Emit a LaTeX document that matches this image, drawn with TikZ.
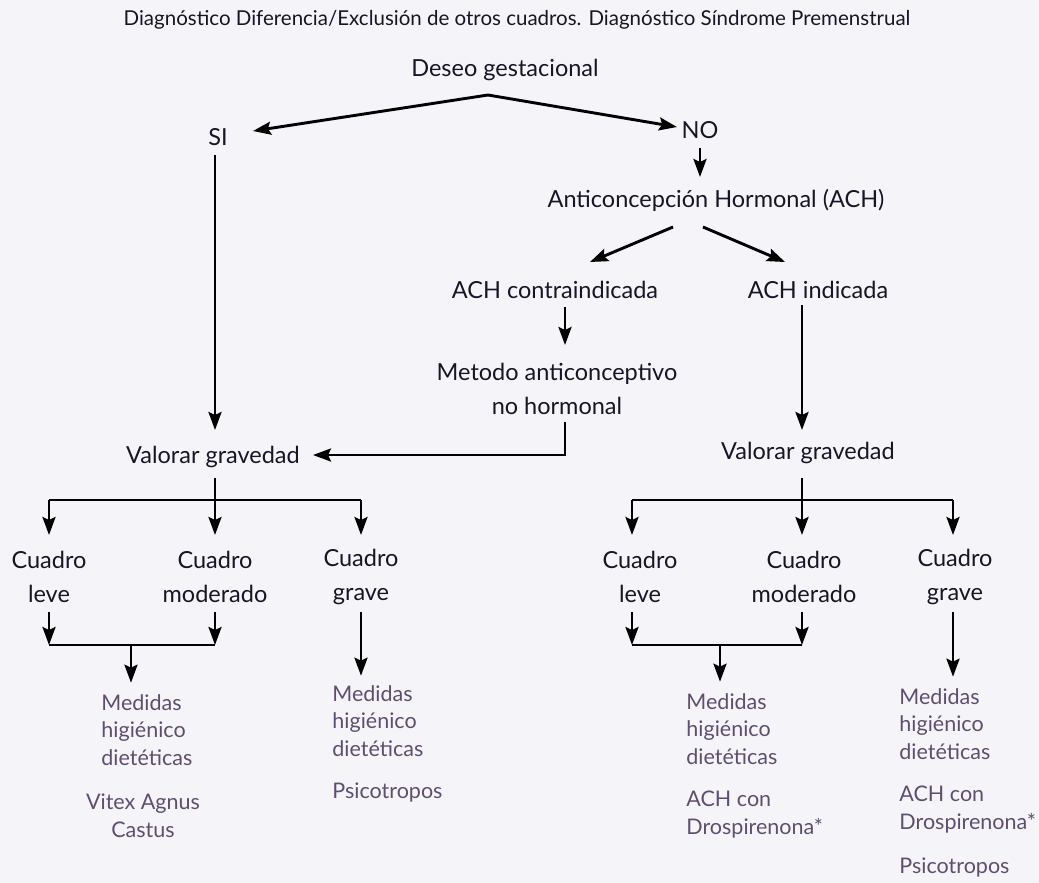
\documentclass[tikz,border=0pt]{standalone}
\usepackage{fontspec}
\setmainfont{Lato}
\usetikzlibrary{arrows.meta}

\definecolor{bgcol}{RGB}{245,245,249}
\definecolor{txtcol}{RGB}{22,22,38}
\definecolor{medcol}{RGB}{96,78,112}

\begin{document}
\begin{tikzpicture}[x=1pt, y=-1pt, line width=2.9pt,
    flecha/.style={black, -{Stealth[length=18pt,width=13pt,inset=3pt]}},
    ttl/.style={text=txtcol, font=\fontsize{20.5}{24}\selectfont, inner sep=0pt},
    lbl/.style={text=txtcol, font=\fontsize{23.5}{34}\selectfont, align=center, inner sep=0pt},
    med/.style={text=medcol, font=\fontsize{21.5}{27.5}\selectfont, align=left, anchor=base west, inner sep=0pt},
    medc/.style={med, align=center, anchor=base}]
\fill [bgcol] (0, 0) rectangle (1039, 883);
% top
\node [ttl] (title) at (517, 20) {Diagnóstico Diferencia/Exclusión de otros cuadros. Diagnóstico Síndrome Premenstrual};
\node [lbl] (deseo) at (505, 70) {Deseo gestacional};
\node [lbl] (si) at (218, 137) {SI};
\node [lbl] (no) at (700, 130) {NO};
\node [lbl] (ach) at (716, 200) {Anticoncepción Hormonal (ACH)};
\node [lbl] (contra) at (555, 290) {ACH contraindicada};
\node [lbl] (indic) at (818, 290) {ACH indicada};
\node [lbl] (metodo) at (557, 389) {Metodo anticonceptivo\\no hormonal};
\node [lbl] (valI) at (213, 457) {Valorar gravedad};
\node [lbl] (valD) at (808, 453) {Valorar gravedad};
% cuadros
\node [lbl] (leveI) at (49, 577) {Cuadro\\leve};
\node [lbl] (modI) at (215, 577) {Cuadro\\moderado};
\node [lbl] (gravI) at (361, 577) {Cuadro\\grave};
\node [lbl] (leveD) at (640, 577) {Cuadro\\leve};
\node [lbl] (modD) at (804, 577) {Cuadro\\moderado};
\node [lbl] (gravD) at (955, 577) {Cuadro\\grave};
% tratamientos (base = ultima linea)
\node [med] (medLI) at (100, 765) {Medidas\\higiénico\\dietéticas};
\node [medc] (vitex) at (143, 837) {Vitex Agnus\\Castus};
\node [med] (medGI) at (331, 756) {Medidas\\higiénico\\dietéticas};
\node [med] (psicoI) at (331, 798) {Psicotropos};
\node [med] (medLD) at (685, 764) {Medidas\\higiénico\\dietéticas};
\node [med] (drosLD) at (685, 834) {ACH con\\Drospirenona*};
\node [med] (medGD) at (898, 759) {Medidas\\higiénico\\dietéticas};
\node [med] (drosGD) at (898, 829) {ACH con\\Drospirenona*};
\node [med] (psicoD) at (898, 873) {Psicotropos};

\coordinate (split) at (488, 95);
\draw [flecha] (split) -- ([shift={(35,-6)}]si.center);
\draw [flecha] (split) -- ([shift={(-23,-3)}]no.center);
\draw [flecha] ([shift={(0,18)}]no.center) -- ([shift={(-16,-23)}]ach.center);
\draw [flecha] ([shift={(-43,27)}]ach.center) -- ([shift={(35,-28)}]contra.center);
\draw [flecha] ([shift={(-13,27)}]ach.center) -- ([shift={(-33,-28)}]indic.center);
\draw [flecha] ([shift={(10,17)}]contra.center) -- ([shift={(8,-44)}]metodo.center);
\draw [flecha] ([shift={(8,33)}]metodo.center) |- ([shift={(100,-2)}]valI.center);
\draw [flecha] ([shift={(-3,18)}]si.center) -- ([shift={(2,-27)}]valI.center);
\draw [flecha] ([shift={(-16,15)}]indic.center) -- ([shift={(-6,-23)}]valD.center);

% rama izquierda
\coordinate (forkI) at (215, 500);
\coordinate (joinI) at (131, 645);
\draw [black] ([shift={(2,21)}]valI.center) -- (forkI);
\draw [black] (leveI |- forkI) -- (gravI |- forkI);
\foreach \n in {leveI, modI, gravI}
    \draw [flecha] (\n |- forkI) -- ([shift={(0,-42)}]\n.center);
\draw [flecha] ([shift={(0,35)}]leveI.center) -- (leveI |- joinI);
\draw [flecha] ([shift={(0,35)}]modI.center) -- (modI |- joinI);
\draw [black] (leveI |- joinI) -- (modI |- joinI);
\draw [flecha] (joinI) -- ([shift={(0,-10)}]joinI |- medLI.north);
\draw [flecha] ([shift={(0,35)}]gravI.center) -- ([shift={(0,-8)}]gravI |- medGI.north);

% rama derecha
\coordinate (forkD) at (802, 500);
\coordinate (joinD) at (720, 645);
\draw [black] ([shift={(-6,25)}]valD.center) -- (forkD);
\draw [black] ([shift={(-8,0)}]leveD |- forkD) -- ([shift={(-2,0)}]gravD |- forkD);
\draw [flecha] ([shift={(-8,0)}]leveD |- forkD) -- ([shift={(-8,-42)}]leveD.center);
\draw [flecha] ([shift={(-2,0)}]modD |- forkD) -- ([shift={(-2,-42)}]modD.center);
\draw [flecha] ([shift={(-2,0)}]gravD |- forkD) -- ([shift={(-2,-42)}]gravD.center);
\draw [flecha] ([shift={(-8,35)}]leveD.center) -- ([shift={(-8,0)}]leveD |- joinD);
\draw [flecha] ([shift={(-2,35)}]modD.center) -- ([shift={(-2,0)}]modD |- joinD);
\draw [black] ([shift={(-8,0)}]leveD |- joinD) -- ([shift={(-2,0)}]modD |- joinD);
\draw [flecha] (joinD) -- ([shift={(0,-10)}]joinD |- medLD.north);
\draw [flecha] ([shift={(-2,35)}]gravD.center) -- ([shift={(-2,-10)}]gravD |- medGD.north);
\end{tikzpicture}
\end{document}
